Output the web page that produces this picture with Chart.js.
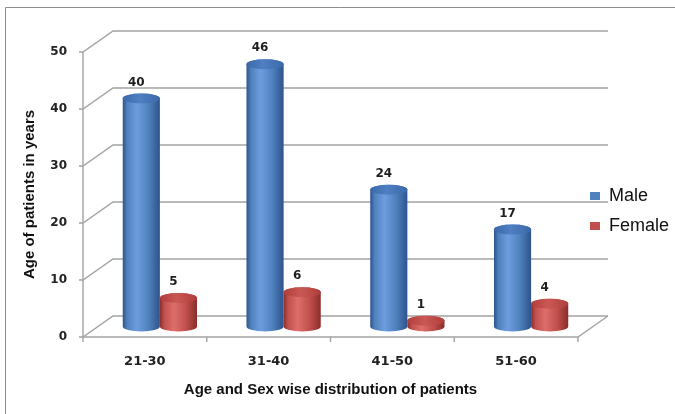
<!DOCTYPE html>
<html>
<head>
<meta charset="utf-8">
<script src="https://cdn.jsdelivr.net/npm/chart.js@4.4.1/dist/chart.umd.min.js"></script>
<style>
  html, body { margin: 0; padding: 0; background: #ffffff; }
  #wrap { width: 675px; height: 414px; }
</style>
</head>
<body>
<div id="wrap"><canvas id="chart" width="675" height="414"></canvas></div>
<script>
// Patient counts per age band
const categories = ['21-30', '31-40', '41-50', '51-60'];
const maleValues = [40, 46, 24, 17];
const femaleValues = [5, 6, 1, 4];
const yTickValues = [0, 10, 20, 30, 40, 50];
const seriesNames = ['Male', 'Female'];

// Pseudo-3D look: back wall offset and cylinder shading
const DEPTH_X = 30;
const DEPTH_Y = -21;
const ELLIPSE_RY = 5;
const GRID_COLOR = '#a3a3a3';
const shades = [
  { face: '#4f81bd', light: '#6e9ddf', dark: '#2d538c', top: '#3b68aa', topLight: '#5080c2' },
  { face: '#c0504d', light: '#dd6e6a', dark: '#8a2d2a', top: '#b13d3a', topLight: '#c95854' }
];

function drawCylinder(ctx, cx, yTop, yBase, w, s) {
  const rx = w / 2;
  const ry = ELLIPSE_RY;
  const g = ctx.createLinearGradient(cx - rx, 0, cx + rx, 0);
  g.addColorStop(0, s.dark);
  g.addColorStop(0.12, s.face);
  g.addColorStop(0.38, s.light);
  g.addColorStop(0.7, s.face);
  g.addColorStop(1, s.dark);
  ctx.beginPath();
  ctx.moveTo(cx - rx, yTop);
  ctx.lineTo(cx - rx, yBase);
  ctx.ellipse(cx, yBase, rx, ry, 0, Math.PI, 0, true);
  ctx.lineTo(cx + rx, yTop);
  ctx.ellipse(cx, yTop, rx, ry, 0, 0, Math.PI, true);
  ctx.closePath();
  ctx.fillStyle = g;
  ctx.fill();
  const tg = ctx.createLinearGradient(cx - rx, yTop, cx + rx, yTop);
  tg.addColorStop(0, s.top);
  tg.addColorStop(0.45, s.topLight);
  tg.addColorStop(1, s.top);
  ctx.beginPath();
  ctx.ellipse(cx, yTop, rx, ry, 0, 0, Math.PI * 2);
  ctx.fillStyle = tg;
  ctx.fill();
}

const threeD = {
  id: 'threeD',
  beforeDraw(chart) {
    const ctx = chart.ctx;
    ctx.save();
    ctx.fillStyle = '#ffffff';
    ctx.fillRect(0, 0, chart.width, chart.height);
    ctx.strokeStyle = '#8c8c8c';
    ctx.lineWidth = 1;
    ctx.beginPath();
    ctx.moveTo(5.5, chart.height);
    ctx.lineTo(5.5, 7.5);
    ctx.lineTo(chart.width, 7.5);
    ctx.stroke();
    ctx.restore();
  },
  beforeDatasetsDraw(chart) {
    const ctx = chart.ctx;
    const y = chart.scales.y;
    const L = chart.chartArea.left, R = chart.chartArea.right;
    const base = y.getPixelForValue(0);
    ctx.save();
    ctx.strokeStyle = GRID_COLOR;
    ctx.lineWidth = 1.4;
    // back wall lines and left wall diagonals
    yTickValues.forEach(v => {
      const py = y.getPixelForValue(v);
      ctx.beginPath();
      ctx.moveTo(L - 4, py);
      ctx.lineTo(L, py);
      ctx.lineTo(L + DEPTH_X, py + DEPTH_Y);
      ctx.lineTo(R + DEPTH_X, py + DEPTH_Y);
      ctx.stroke();
    });
    // front axis and floor edge
    ctx.beginPath();
    ctx.moveTo(L, y.getPixelForValue(50));
    ctx.lineTo(L, base + 5);
    ctx.moveTo(L, base);
    ctx.lineTo(R, base);
    ctx.lineTo(R + DEPTH_X, base + DEPTH_Y);
    ctx.stroke();
    // category separators
    const cw = (R - L) / categories.length;
    ctx.beginPath();
    for (let k = 1; k <= categories.length; k++) {
      const px = L + k * cw;
      ctx.moveTo(px, base);
      ctx.lineTo(px, base + 5);
    }
    ctx.stroke();
    ctx.restore();
  },
  beforeDatasetDraw() {
    return false;
  },
  afterDatasetsDraw(chart) {
    const ctx = chart.ctx;
    const hx = DEPTH_X / 2, hy = DEPTH_Y / 2;
    ctx.save();
    chart.data.datasets.forEach((ds, di) => {
      const meta = chart.getDatasetMeta(di);
      meta.data.forEach(bar => {
        drawCylinder(ctx, bar.x + hx, bar.y + hy, bar.base + hy, bar.width, shades[di]);
      });
    });
    ctx.font = 'bold 12px "DejaVu Sans"';
    ctx.fillStyle = '#1e1e1e';
    ctx.textAlign = 'center';
    ctx.textBaseline = 'middle';
    chart.data.datasets.forEach((ds, di) => {
      const meta = chart.getDatasetMeta(di);
      meta.data.forEach((bar, i) => {
        ctx.fillText(String(ds.data[i]), bar.x + hx - 5, bar.y + hy - 16);
      });
    });
    ctx.restore();
  }
};

new Chart(document.getElementById('chart'), {
  type: 'bar',
  data: {
    labels: categories,
    datasets: [
      { label: seriesNames[0], data: maleValues, backgroundColor: shades[0].face, borderWidth: 0 },
      { label: seriesNames[1], data: femaleValues, backgroundColor: shades[1].face, borderWidth: 0 }
    ]
  },
  options: {
    responsive: false,
    animation: false,
    layout: { padding: { top: 8, left: 0, right: -4, bottom: 0 } },
    datasets: { bar: { categoryPercentage: 0.6, barPercentage: 1.0 } },
    plugins: {
      tooltip: { enabled: false },
      legend: {
        position: 'right',
        align: 'center',
        labels: {
          boxWidth: 10,
          boxHeight: 8,
          padding: 12,
          color: '#111111',
          font: { family: '"Liberation Sans", Arial, sans-serif', size: 18 }
        }
      }
    },
    scales: {
      x: {
        grid: { display: false, drawTicks: false },
        border: { display: false },
        ticks: {
          color: '#222222',
          padding: 17,
          font: { family: '"DejaVu Sans"', weight: 'bold', size: 13 }
        },
        title: {
          display: true,
          text: 'Age and Sex wise distribution of patients',
          color: '#111111',
          font: { family: '"Liberation Sans", Arial, sans-serif', weight: 'bold', size: 15 },
          padding: { top: 0, bottom: 15 }
        },
        afterFit(s) { s.height = 77; }
      },
      y: {
        min: 0,
        max: 50,
        afterBuildTicks(s) { s.ticks = yTickValues.map(v => ({ value: v })); },
        grid: { display: false, drawTicks: false },
        border: { display: false },
        ticks: {
          color: '#222222',
          padding: 16,
          font: { family: '"DejaVu Sans"', weight: 'bold', size: 12 }
        },
        title: {
          display: true,
          text: 'Age of patients in years',
          color: '#111111',
          font: { family: '"Liberation Sans", Arial, sans-serif', weight: 'bold', size: 15 },
          padding: { top: 21, bottom: 0 }
        },
        afterFit(s) { s.width = 83; s.paddingTop = 52; }
      }
    }
  },
  plugins: [threeD]
});
</script>
</body>
</html>
